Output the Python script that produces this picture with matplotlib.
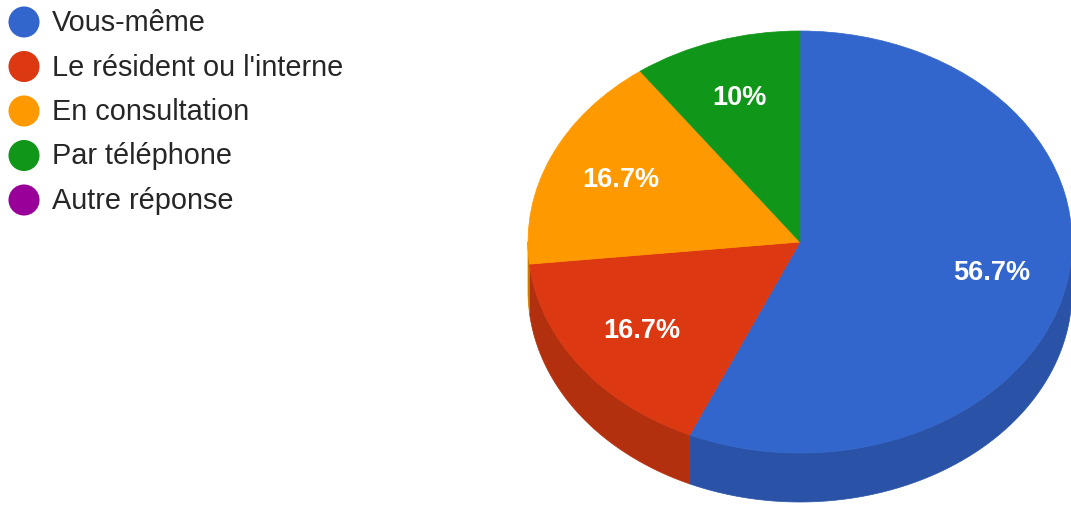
import numpy as np
import matplotlib.pyplot as plt
from matplotlib.patches import Wedge, Polygon
from matplotlib.transforms import Affine2D

# Réponses à la question (en %)
labels = ["Vous-même", "Le résident ou l'interne", "En consultation",
          "Par téléphone", "Autre réponse"]
percents = [56.7, 16.7, 16.7, 10.0, 0.0]
colors = ["#3366cc", "#dc3912", "#ff9900", "#109618", "#990099"]
side_colors = ["#2a53a8", "#b3300f", "#cc7a00", "#0c7813", "#7a007a"]

W, H = 1071, 508
fig = plt.figure(figsize=(W / 100, H / 100), dpi=100)
ax = fig.add_axes([0, 0, 1, 1])
ax.set_xlim(0, W)
ax.set_ylim(H, 0)
ax.axis("off")

plt.rcParams["font.family"] = ["Liberation Sans", "DejaVu Sans"]

# géométrie du camembert 3D (pixels)
cx, cy = 800, 242
rx, ry = 272, 211
depth = 49
unit = Affine2D().scale(rx, -ry).translate(cx, cy) + ax.transData


def front_ranges(a1, a2):
    # portions d'arc [a1, a2] situées sur la moitié avant (sin < 0)
    out = []
    for k in (-2, -1, 0, 1):
        lo, hi = max(a1, -180 + 360 * k), min(a2, 360 * k)
        if hi > lo:
            out.append((lo, hi))
    return out


total = sum(percents)
start = 0.0
slices = []
for p, c, sc in zip(percents, colors, side_colors):
    frac = p / total
    if frac > 0:
        theta1 = 90 - (start + frac) * 360
        theta2 = 90 - start * 360
        slices.append((p, c, sc, theta1, theta2))
    start += frac

# flancs
for p, c, sc, t1, t2 in slices:
    for lo, hi in front_ranges(t1, t2):
        t = np.radians(np.linspace(lo, hi, 120))
        xs = cx + rx * np.cos(t)
        ys = cy - ry * np.sin(t)
        pts = np.column_stack([np.r_[xs, xs[::-1]], np.r_[ys, ys[::-1] + depth]])
        ax.add_patch(Polygon(pts, closed=True, facecolor=sc, edgecolor=sc,
                             lw=0.5, zorder=1))

# dessus
for p, c, sc, t1, t2 in slices:
    ax.add_patch(Wedge((0, 0), 1, t1, t2, facecolor=c, edgecolor=c, lw=0.5,
                       transform=unit, zorder=2))
    mid = np.radians((t1 + t2) / 2)
    ax.text(0.72 * np.cos(mid), 0.72 * np.sin(mid), f"{p:g}%", transform=unit,
            ha="center", va="center", color="white", fontsize=19.5,
            fontweight="bold", zorder=3)

# légende
for i, (lab, c) in enumerate(zip(labels, colors)):
    y = 22 + i * 44.5
    ax.scatter([24], [y], s=500, color=c, edgecolors="none", zorder=3)
    ax.text(52, y + 1, lab, ha="left", va="center", fontsize=20.8,
            color="#262626")

fig.savefig("out.png", dpi=100)
